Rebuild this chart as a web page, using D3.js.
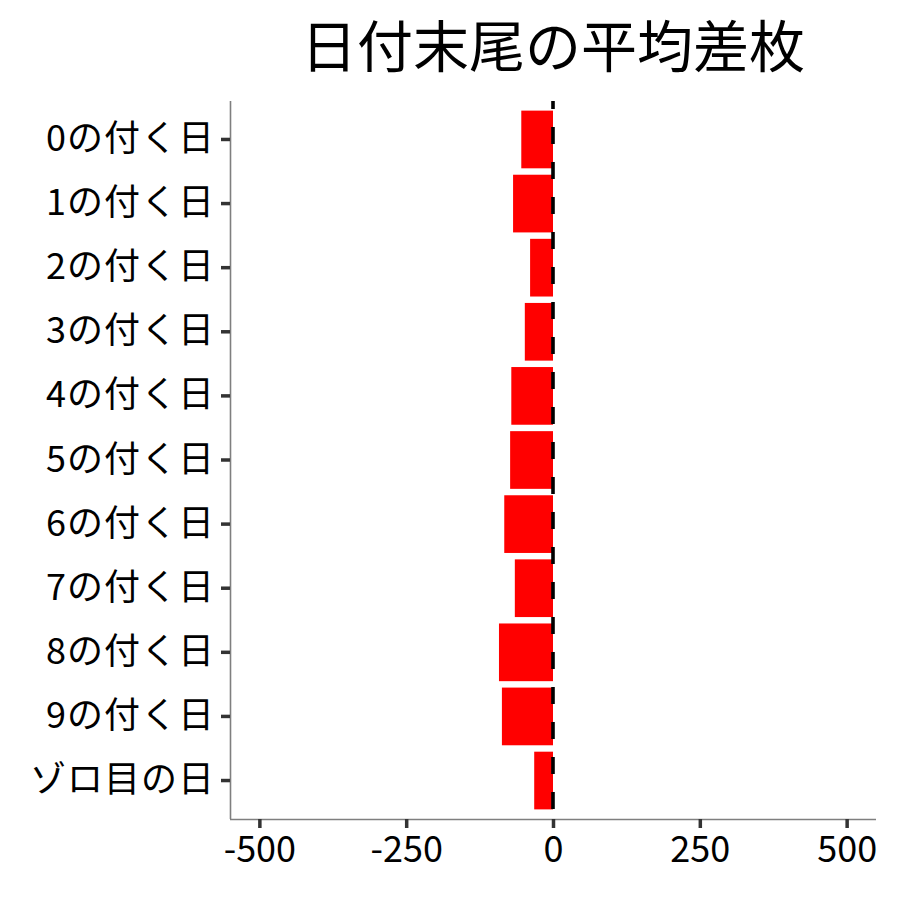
<!DOCTYPE html>
<html>
<head>
<meta charset="utf-8">
<script src="https://cdn.jsdelivr.net/npm/d3@7"></script>
<style>
  body { margin: 0; background: #fff; }
  text { font-family: "Noto Sans CJK JP", "Noto Sans", sans-serif; }
</style>
</head>
<body>
<div id="chart"></div>
<script>
const categories = ["0の付く日", "1の付く日", "2の付く日", "3の付く日", "4の付く日",
  "5の付く日", "6の付く日", "7の付く日", "8の付く日", "9の付く日", "ゾロ目の日"];
const values = [-54, -68, -39, -48, -71, -73, -83, -65, -92, -87, -32];
const xTicks = [-500, -250, 0, 250, 500];
const title = "日付末尾の平均差枚";

const width = 900;
const height = 900;
const margin = { top: 101, right: 24, bottom: 81, left: 230 };

const svg = d3.select("#chart").append("svg")
  .attr("width", width)
  .attr("height", height);

const xScale = d3.scaleLinear()
  .domain([-550, 550])
  .range([margin.left, width - margin.right]);

const yScale = d3.scaleBand()
  .domain(categories)
  .range([margin.top, height - margin.bottom])
  .paddingInner(0.1)
  .paddingOuter(0.15);

// bars
svg.append("g")
  .selectAll("rect")
  .data(values)
  .enter()
  .append("rect")
  .attr("x", (d) => xScale(Math.min(d, 0)))
  .attr("y", (d, i) => yScale(categories[i]))
  .attr("width", (d) => Math.abs(xScale(d) - xScale(0)))
  .attr("height", yScale.bandwidth())
  .style("fill", "#ff0000");

// dashed zero line
svg.append("line")
  .attr("x1", xScale(0))
  .attr("x2", xScale(0))
  .attr("y1", margin.top)
  .attr("y2", height - margin.bottom)
  .attr("stroke", "#000")
  .attr("stroke-width", 3.6)
  .attr("stroke-dasharray", "17 18")
  .attr("stroke-dashoffset", 9);

// axes
const xAxis = d3.axisBottom(xScale)
  .tickValues(xTicks)
  .tickFormat((d) => String(d))
  .tickSize(9)
  .tickPadding(8)
  .tickSizeOuter(0);

const yAxis = d3.axisLeft(yScale)
  .tickSize(9)
  .tickPadding(6)
  .tickSizeOuter(0);

const gx = svg.append("g")
  .attr("transform", `translate(0,${height - margin.bottom})`)
  .call(xAxis);

const gy = svg.append("g")
  .attr("transform", `translate(${margin.left},0)`)
  .call(yAxis);

[gx, gy].forEach((g) => {
  g.select(".domain").attr("stroke", "#7f7f7f").attr("stroke-width", 1.6);
  g.selectAll(".tick line").attr("stroke", "#333").attr("stroke-width", 3.5);
  g.selectAll(".tick text")
    .attr("fill", "#000")
    .style("font-size", "36px")
    .style("font-family", "'Noto Sans CJK JP', sans-serif");
});

gy.selectAll(".tick text").style("letter-spacing", "1px");

gy.select(".domain").attr("d", `M0.5,${margin.top}V${height - margin.bottom}`);
gx.select(".domain").attr("d", `M${margin.left},0.5H${width - margin.right}`);

// title
svg.append("text")
  .attr("x", (margin.left + width - margin.right) / 2)
  .attr("y", 67)
  .attr("text-anchor", "middle")
  .style("font-size", "56px")
  .style("fill", "#000")
  .text(title);
</script>
</body>
</html>
